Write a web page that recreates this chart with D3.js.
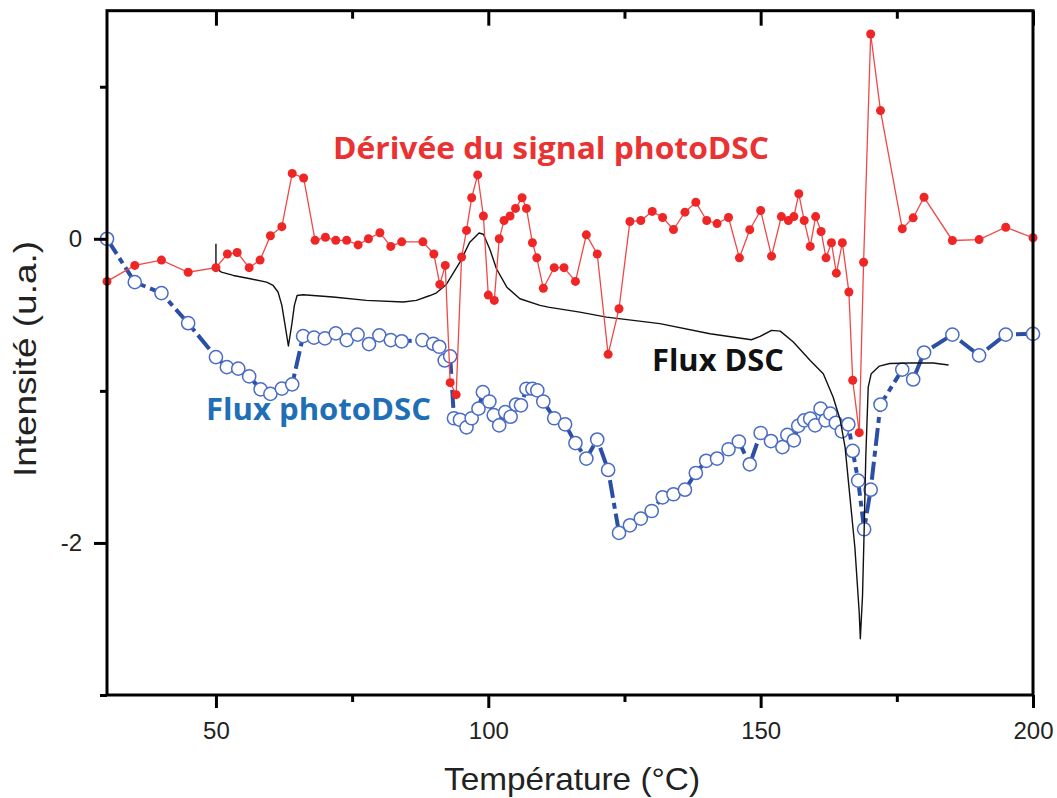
<!DOCTYPE html>
<html>
<head>
<meta charset="utf-8">
<script src="https://cdn.jsdelivr.net/npm/d3@7"></script>
<style>
  html, body { margin: 0; padding: 0; background: #fff; }
  svg { display: block; }
</style>
</head>
<body>
<svg id="chart" width="1057" height="798"></svg>
<script>
// ---- Data ----
const xTicksMajor = [50, 100, 150, 200];
const xTicksMinor = [75, 125, 175];
const yTicksMajor = [-2, 0];
const yTicksMinor = [-3, -1, 1];

// Dérivée du signal photoDSC (red)
const derivT = [30, 35.1, 40, 44.9, 50, 52.1, 53.9, 56.1, 58.1, 60, 62.1, 64, 66.1, 68.2, 70.1, 72, 74, 76.1, 78, 80.1, 82.1, 84.1, 88, 90, 91.1, 92.1, 93, 94.1, 95.1, 96, 96.95, 98.05, 99.1, 100, 101.1, 102, 102.9, 104, 105, 106.2, 107, 108.1, 108.9, 110.1, 112.1, 113.9, 116, 118, 120, 122, 124, 126, 128, 130.1, 132, 134, 136.1, 138.1, 140.1, 142, 144.1, 146.1, 148, 150, 152, 153.8, 155.1, 156.1, 157, 158, 159.1, 160.1, 161.1, 162, 163, 163.9, 165, 166.2, 166.9, 168.1, 168.9, 170.2, 172, 176, 178, 180, 185.2, 190.1, 195, 200];
const derivV = [-0.28, -0.175, -0.14, -0.22, -0.19, -0.10, -0.09, -0.19, -0.14, 0.02, 0.08, 0.43, 0.40, -0.01, 0.01, -0.01, -0.01, -0.04, 0.0, 0.04, -0.05, -0.02, -0.02, -0.10, -0.30, -0.175, -0.946, -1.025, -0.12, 0.055, 0.27, 0.42, 0.15, -0.37, -0.405, 0.0, 0.12, 0.15, 0.20, 0.27, 0.20, -0.026, -0.125, -0.325, -0.19, -0.19, -0.28, 0.026, -0.10, -0.76, -0.46, 0.114, 0.12, 0.18, 0.14, 0.061, 0.175, 0.24, 0.12, 0.10, 0.14, -0.125, 0.06, 0.186, -0.114, 0.146, 0.12, 0.146, 0.296, 0.12, -0.05, 0.146, 0.048, -0.125, -0.026, -0.226, -0.026, -0.35, -0.93, -1.275, -0.154, 1.347, 0.843, 0.066, 0.138, 0.273, -0.011, -0.005, 0.076, 0.007];

// Flux photoDSC (blue, open circles)
const photoT = [30, 35.1, 40, 44.9, 50, 52, 54.1, 56.1, 58.2, 60, 62.1, 64, 66, 68, 70, 72, 74, 76, 78.1, 80, 82.1, 84.1, 87.9, 89.9, 91, 92, 93, 93.7, 94.8, 96, 96.95, 98.2, 99, 100.2, 101, 102, 103.1, 104.1, 105.1, 106, 107, 108.1, 109, 110.1, 112.1, 114.1, 116, 118, 120, 122, 124, 126, 128, 130, 132, 134, 136.1, 138.1, 140, 142, 144.1, 146, 148, 150, 151.9, 154, 154.9, 156.1, 156.9, 158, 159.1, 160, 161, 161.9, 162.8, 163.8, 164.9, 166.1, 166.9, 167.9, 169, 170.2, 172, 176, 178, 180, 185.2, 190.1, 195, 200];
const photoV = [0, -0.285, -0.357, -0.555, -0.778, -0.844, -0.854, -0.905, -0.99, -1.02, -0.985, -0.957, -0.64, -0.65, -0.655, -0.622, -0.666, -0.63, -0.692, -0.635, -0.666, -0.674, -0.666, -0.69, -0.71, -0.80, -0.773, -1.18, -1.19, -1.24, -1.18, -1.117, -1.008, -1.07, -1.16, -1.227, -1.14, -1.17, -1.09, -1.095, -0.986, -0.986, -0.997, -1.07, -1.18, -1.22, -1.343, -1.445, -1.32, -1.52, -1.934, -1.884, -1.84, -1.79, -1.70, -1.68, -1.65, -1.54, -1.46, -1.445, -1.384, -1.333, -1.483, -1.277, -1.33, -1.37, -1.29, -1.325, -1.23, -1.194, -1.183, -1.227, -1.117, -1.194, -1.15, -1.21, -1.266, -1.22, -1.395, -1.59, -1.91, -1.65, -1.09, -0.86, -0.925, -0.748, -0.63, -0.767, -0.63, -0.625];

// Flux DSC (black line)
const dscT = [50, 50, 51, 53.2, 56.3, 59.3, 60.5, 61.4, 62.1, 62.7, 63.3, 63.9, 64.4, 64.9, 66, 71.5, 77.6, 84.4, 86.8, 89.3, 90.5, 92.3, 94.8, 96.6, 98.3, 99.1, 100.3, 101.5, 103.4, 105.8, 109.5, 111, 116.8, 121.7, 131.5, 140.7, 148.3, 149.9, 152, 153.6, 156, 159.1, 161.5, 163.3, 164.6, 165.5, 166.4, 167.3, 168.1, 168.3, 168.7, 169, 169.3, 169.75, 170.3, 171.8, 173.7, 177.4, 181.7, 184.5];
const dscV = [-0.033, -0.193, -0.219, -0.241, -0.263, -0.285, -0.307, -0.35, -0.438, -0.57, -0.705, -0.57, -0.438, -0.373, -0.368, -0.383, -0.405, -0.416, -0.405, -0.373, -0.355, -0.30, -0.154, -0.022, 0.038, 0.03, -0.07, -0.197, -0.318, -0.394, -0.438, -0.449, -0.482, -0.515, -0.558, -0.624, -0.664, -0.642, -0.602, -0.607, -0.679, -0.80, -0.887, -1.04, -1.19, -1.37, -1.70, -2.03, -2.46, -2.63, -2.35, -1.92, -1.435, -0.975, -0.887, -0.837, -0.82, -0.817, -0.817, -0.83];

const xLabel = "Température (°C)";
const yLabel = "Intensité (u.a.)";
const labelDeriv = "Dérivée du signal photoDSC";
const labelDSC = "Flux DSC";
const labelPhoto = "Flux photoDSC";

// ---- Build ----
const svg = d3.select("#chart");
const L = 107, R = 1033, T = 10.7, B = 695;
const x = d3.scaleLinear().domain([30, 200]).range([L, R]);
const y = d3.scaleLinear().domain([-3, 1.5]).range([B, T]);

const zip = (a, b) => a.map((d, i) => ({ t: d, v: b[i] }));
const deriv = zip(derivT, derivV);
const photo = zip(photoT, photoV);
const dsc = zip(dscT, dscV);

const line = d3.line().x(d => x(d.t)).y(d => y(d.v)).curve(d3.curveLinear);
const hyphenFmt = d => String(d).replace("\u2212", "-");

// Blue photoDSC line (thick, dashed) + open circles
svg.append("path").datum(photo)
  .attr("d", line)
  .attr("fill", "none")
  .attr("stroke", "#2c4fa6")
  .attr("stroke-width", 4)
  .attr("stroke-dasharray", "18,5,6,5");
svg.append("g").selectAll("circle").data(photo).join("circle")
  .attr("cx", d => x(d.t)).attr("cy", d => y(d.v)).attr("r", 6.6)
  .attr("fill", "#fff").attr("stroke", "#4a6cc6").attr("stroke-width", 1.5);

// Black DSC line
svg.append("path").datum(dsc)
  .attr("d", line)
  .attr("fill", "none")
  .attr("stroke", "#111")
  .attr("stroke-width", 1.4)
  .attr("stroke-linejoin", "round");

// Red derivative line + filled points
svg.append("path").datum(deriv)
  .attr("d", line)
  .attr("fill", "none")
  .attr("stroke", "#f04848")
  .attr("stroke-width", 1.3);
svg.append("g").selectAll("circle").data(deriv).join("circle")
  .attr("cx", d => x(d.t)).attr("cy", d => y(d.v)).attr("r", 4.5)
  .attr("fill", "#ee2626");

// ---- Axes ----
const axisStyle = g => {
  g.select(".domain").remove();
  g.selectAll(".tick line").attr("stroke", "#000").attr("stroke-width", 3);
  g.selectAll(".tick text").attr("font-family", "'Liberation Sans', Arial, sans-serif")
    .attr("font-size", 24).attr("fill", "#222");
};
// bottom
svg.append("g").attr("transform", `translate(0,${B})`)
  .call(d3.axisBottom(x).tickValues(xTicksMajor).tickSize(13).tickPadding(14).tickFormat(hyphenFmt))
  .call(axisStyle);
svg.append("g").attr("transform", `translate(0,${B})`)
  .call(d3.axisBottom(x).tickValues(xTicksMinor).tickSize(7).tickFormat(""))
  .call(axisStyle);
// top (inward ticks)
svg.append("g").attr("transform", `translate(0,${T})`)
  .call(d3.axisTop(x).tickValues(xTicksMajor).tickSize(-15).tickFormat(""))
  .call(axisStyle);
svg.append("g").attr("transform", `translate(0,${T})`)
  .call(d3.axisTop(x).tickValues(xTicksMinor).tickSize(-8).tickFormat(""))
  .call(axisStyle);
// left
svg.append("g").attr("transform", `translate(${L},0)`)
  .call(d3.axisLeft(y).tickValues(yTicksMajor).tickSize(13).tickPadding(12).tickFormat(hyphenFmt))
  .call(axisStyle);
svg.append("g").attr("transform", `translate(${L},0)`)
  .call(d3.axisLeft(y).tickValues(yTicksMinor).tickSize(7).tickFormat(""))
  .call(axisStyle);

// frame
svg.append("rect").attr("x", L).attr("y", T).attr("width", R - L).attr("height", B - T)
  .attr("fill", "none").attr("stroke", "#000").attr("stroke-width", 3);

// axis titles
svg.append("text").attr("x", 572).attr("y", 790)
  .attr("text-anchor", "middle")
  .attr("font-family", "'Liberation Sans', Arial, sans-serif").attr("font-size", 32).attr("fill", "#222")
  .attr("textLength", 256).attr("lengthAdjust", "spacingAndGlyphs")
  .text(xLabel);
svg.append("text").attr("transform", `translate(36,359) rotate(-90)`)
  .attr("text-anchor", "middle")
  .attr("font-family", "'Liberation Sans', Arial, sans-serif").attr("font-size", 32).attr("fill", "#222")
  .attr("textLength", 236).attr("lengthAdjust", "spacingAndGlyphs")
  .text(yLabel);

// series annotations
const ann = (txt, xx, yy, w, col) => svg.append("text")
  .attr("x", xx).attr("y", yy)
  .attr("font-family", "'Open Sans', sans-serif").attr("font-weight", 700)
  .attr("font-size", 30).attr("fill", col)
  .attr("textLength", w).attr("lengthAdjust", "spacingAndGlyphs")
  .text(txt);
ann(labelDeriv, 333, 159, 436, "#ea3232");
ann(labelDSC, 652, 371, 132, "#111");
ann(labelPhoto, 206, 420, 225, "#1f6fb7");
</script>
</body>
</html>
